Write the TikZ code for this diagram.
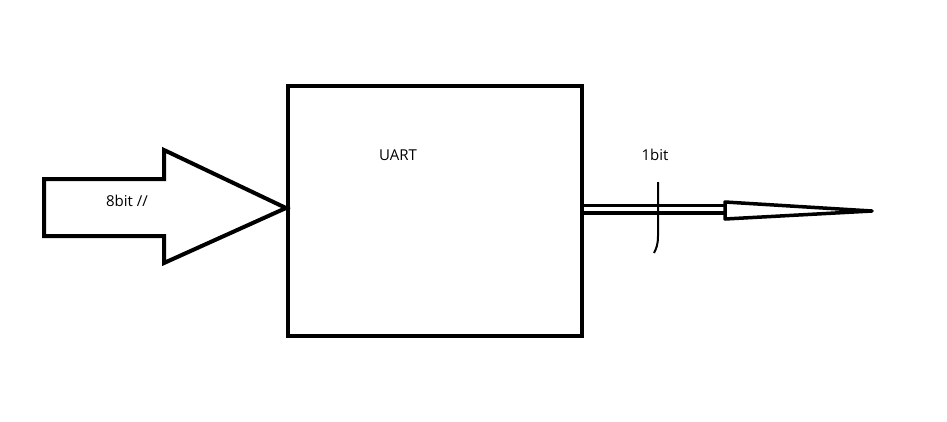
\documentclass[tikz,border=0pt]{standalone}
\usepackage{fontspec}
\setmainfont{Open Sans}
\usetikzlibrary{positioning}
\tikzset{
  block/.style = {rectangle, draw, line width=4pt, minimum width=294pt, minimum height=250pt, inner sep=0pt},
  label/.style = {font=\fontsize{15}{17}\selectfont, inner sep=0pt},
  fat/.style = {draw, line width=4pt, line join=miter},
  wire/.style = {draw, line width=3.5pt, double, double distance=4pt},
  tip/.style = {draw, line width=3.5pt, line join=round}
}
\begin{document}
\begin{tikzpicture}[x=1pt, y=-1pt]
  \useasboundingbox (0,0) rectangle (947,421);
  % Nodes
  \node [block] (uart) at (435,211) {};
  \node [label] (name) at (398,155) {UART};
  \node [label] (in) at (127,201) {8bit //};
  \node [label] (out) at (655,155) {1bit};
  \coordinate (head) at (725,209);
  \coordinate (end) at (872,211);
  % Input
  \path [fat] (uart.west |- 0,208) -- (164,150) -- (164,179) -- (44,179)
        -- (44,236) -- (164,236) -- (164,263) -- cycle;
  % Output
  \path [wire] (uart.east |- head) -- (head);
  \path [tip] (725,202) -- (end) -- (725,219) -- cycle;
  \draw [line width=2pt] (658,182) -- (658,236) .. controls (658,245) and (656,249) .. (654,253);
\end{tikzpicture}
\end{document}
